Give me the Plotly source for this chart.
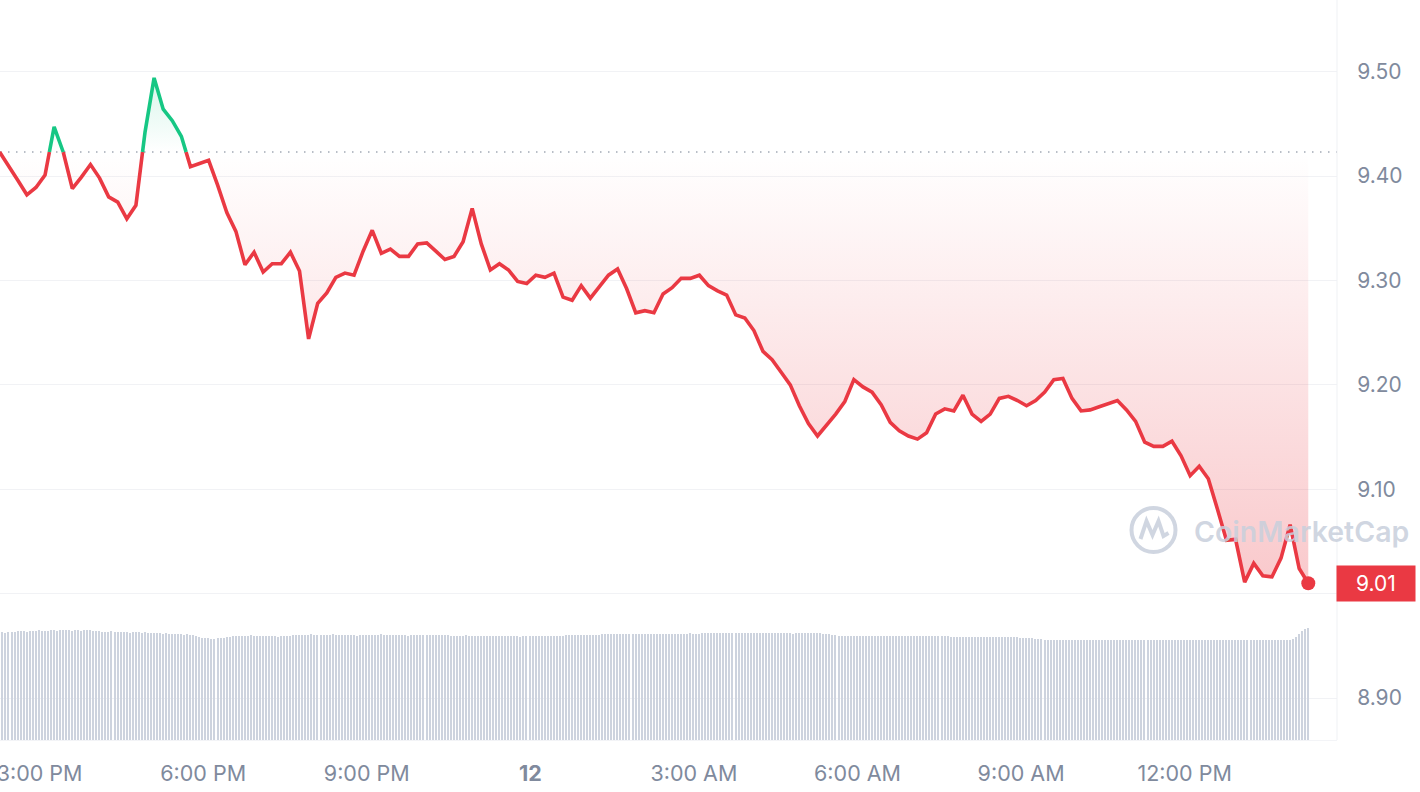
import pandas as pd
import plotly.graph_objects as go

# ---------------- data ----------------
price_start = "2024-01-11 14:16"
price_step = "10min"
price = [
    9.423, 9.410, 9.396, 9.382, 9.389, 9.401, 9.447, 9.423, 9.388, 9.399,
    9.411, 9.398, 9.380, 9.375, 9.359, 9.372, 9.442, 9.494, 9.464, 9.453,
    9.438, 9.409, 9.412, 9.415, 9.391, 9.365, 9.347, 9.315, 9.327, 9.308,
    9.316, 9.316, 9.327, 9.309, 9.244, 9.278, 9.288, 9.303, 9.307, 9.305,
    9.328, 9.348, 9.326, 9.330, 9.323, 9.323, 9.335, 9.336, 9.328, 9.320,
    9.323, 9.337, 9.369, 9.335, 9.310, 9.316, 9.310, 9.299, 9.297, 9.305,
    9.303, 9.307, 9.284, 9.281, 9.295, 9.283, 9.294, 9.305, 9.311, 9.292,
    9.269, 9.271, 9.269, 9.287, 9.293, 9.302, 9.302, 9.305, 9.295, 9.290,
    9.286, 9.267, 9.264, 9.252, 9.232, 9.224, 9.212, 9.200, 9.180, 9.163,
    9.151, 9.161, 9.172, 9.184, 9.205, 9.198, 9.193, 9.181, 9.164, 9.156,
    9.151, 9.148, 9.154, 9.172, 9.177, 9.175, 9.190, 9.172, 9.165, 9.172,
    9.187, 9.189, 9.185, 9.180, 9.185, 9.193, 9.205, 9.206, 9.187, 9.175,
    9.176, 9.179, 9.182, 9.185, 9.176, 9.165, 9.145, 9.141, 9.141, 9.146,
    9.132, 9.113, 9.122, 9.110, 9.081, 9.051, 9.052, 9.011, 9.029, 9.017,
    9.016, 9.034, 9.066, 9.024, 9.010,
]
ref_price = 9.423

volume_step = "200s"
volume = [
    108, 108, 107, 108, 108, 108, 109,
    109, 109, 108, 109, 109, 109, 110, 109, 109, 109, 110, 110, 109,
    110, 110, 110, 110, 109, 110, 110, 109, 110, 110, 110, 109, 109, 109,
    108, 108, 108, 109, 108, 108, 108, 108, 108, 107, 108, 108, 108, 107, 108, 107,
    107, 107, 107, 107, 106, 107, 106, 106, 106, 106, 106, 105, 106, 105, 105, 104,
    103, 102, 102, 102, 101, 101, 102, 102, 102, 103, 103,
    104, 104, 104, 104, 104, 104, 105, 104, 104, 104, 104, 104, 104, 104, 104, 103,
    104, 104, 104, 104, 105, 105, 105,
    105, 105, 105, 106, 105, 105, 105, 105, 105, 105, 106, 105, 105, 105, 105, 105,
    105, 105, 104, 105, 105, 105, 105, 105, 105, 105, 106, 105, 105, 105, 105, 105,
    105, 105, 105, 104, 105, 105, 105, 105, 105, 105, 105, 105, 105, 105, 105, 105, 105,
    104, 104, 104, 104, 104, 105, 104, 104, 104, 104, 104, 104, 104, 104, 104, 104, 104,
    104, 104, 104, 104, 104, 104, 103, 104, 104, 104, 104, 104, 104, 104, 104, 104, 104,
    104, 104, 104, 104, 105, 105, 105, 105, 105, 105, 105, 105, 105, 105, 105, 105,
    106, 106, 106, 106, 106, 106, 106, 106, 106, 106, 106, 106, 106, 106, 106, 106, 106,
    106, 106, 106, 106, 106, 106, 106, 106, 106, 106, 106, 106, 107, 106, 106, 106,
    107, 107, 107, 107, 107, 107, 107, 107, 107, 107, 107, 107, 107, 107, 107, 107,
    107, 107, 107, 107, 107, 107, 107, 107, 107, 107, 107, 107, 107, 107, 106, 107,
    107, 107, 107, 107, 107, 107, 107, 107, 106, 106, 106, 105,
    105, 104, 104, 104, 104, 104, 104, 104, 104, 104, 104, 104, 104, 104, 104, 104,
    104, 104, 104, 104, 104, 104, 104, 104, 104, 104, 104, 104, 104, 104, 104, 104,
    104, 104, 104, 104, 104, 104, 103, 103, 103, 103, 103, 103, 103, 103, 103, 103,
    103, 103, 103, 103, 103, 103, 103, 103, 103, 103, 103, 103, 103, 102, 102, 102,
    102, 102,
    101, 101, 101, 100, 100, 100, 100, 100, 100, 100, 100, 100, 100, 100, 100, 100,
    100, 100, 100, 100, 100, 100, 100, 100, 100, 100, 100, 100, 100, 100, 100, 100,
    100, 100, 100, 100, 100, 100, 100, 100, 100, 100, 100, 100, 100, 100, 100, 100,
    100, 100, 100, 100, 100, 100, 100, 100, 100, 100, 100, 100, 100, 100, 100, 100,
    100, 100, 100, 100, 100, 100, 100, 100, 100, 100, 100, 100, 100, 100, 100, 100,
    100, 100, 100, 100,
    100, 101, 103, 106, 109, 111, 112,
]

tick_times = [
    "2024-01-11 15:00", "2024-01-11 18:00", "2024-01-11 21:00", "2024-01-12 00:00",
    "2024-01-12 03:00", "2024-01-12 06:00", "2024-01-12 09:00", "2024-01-12 12:00",
]
tick_text = ["3:00 PM", "6:00 PM", "9:00 PM", "<b>12</b>", "3:00 AM", "6:00 AM", "9:00 AM", "12:00 PM"]
y_ticks = [8.90, 9.00, 9.10, 9.20, 9.30, 9.40, 9.50]
x_range = ["2024-01-11 14:16:26", "2024-01-12 14:47:36"]
y_range = [8.8598, 9.5686]

# ---------------- styles ----------------
RED = "#ea3943"
GREEN = "#16c784"
GRAY_TXT = "rgb(128,138,157)"
FONT = "Inter"
WM = "rgba(200,207,220,0.85)"

t = pd.date_range(price_start, periods=len(price), freq=price_step)
tv = pd.date_range(price_start, periods=len(volume), freq=volume_step)

# insert crossing points with the reference level so colours switch cleanly
ta, pa = [], []
for i in range(len(price)):
    if i > 0:
        p0, p1 = price[i - 1], price[i]
        if (p0 - ref_price) * (p1 - ref_price) < 0:
            f = (ref_price - p0) / (p1 - p0)
            ta.append(t[i - 1] + (t[i] - t[i - 1]) * f)
            pa.append(ref_price)
    ta.append(t[i])
    pa.append(price[i])

eps = 1e-9
red_y = [v if v <= ref_price + eps else None for v in pa]
green_y = [v if v >= ref_price - eps else None for v in pa]
red_fill = [min(v, ref_price) for v in pa]
green_fill = [max(v, ref_price) for v in pa]
base = [ref_price] * len(pa)

fig = go.Figure()

fig.add_trace(go.Bar(
    x=tv, y=volume, yaxis="y2", width=95000,
    marker=dict(color="#cdd3de", line=dict(width=0)),
    hoverinfo="skip",
))

fig.add_trace(go.Scatter(x=ta, y=base, mode="lines", line=dict(width=0), hoverinfo="skip"))
fig.add_trace(go.Scatter(
    x=ta, y=red_fill, mode="lines", line=dict(width=0), fill="tonexty",
    fillgradient=dict(type="vertical", start=9.0, stop=ref_price,
                      colorscale=[[0, "rgba(234,57,67,0.28)"], [1, "rgba(234,57,67,0.0)"]]),
    hoverinfo="skip",
))
fig.add_trace(go.Scatter(x=ta, y=base, mode="lines", line=dict(width=0), hoverinfo="skip"))
fig.add_trace(go.Scatter(
    x=ta, y=green_fill, mode="lines", line=dict(width=0), fill="tonexty",
    fillgradient=dict(type="vertical", start=ref_price, stop=9.50,
                      colorscale=[[0, "rgba(22,199,132,0.0)"], [1, "rgba(22,199,132,0.18)"]]),
    hoverinfo="skip",
))

fig.add_trace(go.Scatter(x=ta, y=red_y, mode="lines", line=dict(color=RED, width=3.6),
                         connectgaps=False))
fig.add_trace(go.Scatter(x=ta, y=green_y, mode="lines", line=dict(color=GREEN, width=3.6),
                         connectgaps=False))
fig.add_trace(go.Scatter(x=[t[-1]], y=[price[-1]], mode="markers",
                         marker=dict(color=RED, size=14)))

shapes = [
    dict(type="line", xref="paper", x0=0, x1=1, yref="y", y0=ref_price, y1=ref_price,
         line=dict(color="#a3a9b5", width=1.5, dash="1.5px,6.5px"), layer="below"),
    dict(type="line", xref="paper", x0=1, x1=1, yref="paper", y0=0, y1=1,
         line=dict(color="#eff1f4", width=1)),
    # watermark logo
    dict(type="circle", xref="paper", yref="paper", xsizemode="pixel", ysizemode="pixel",
         xanchor=1153.5 / 1337, yanchor=1 - 530 / 740,
         x0=-22, x1=22, y0=-22, y1=22,
         line=dict(color=WM, width=4)),
    dict(type="path", xref="paper", yref="paper", xsizemode="pixel", ysizemode="pixel",
         xanchor=1153.5 / 1337, yanchor=1 - 530 / 740,
         path="M -13,-9 L -7,9 L -1,-5 L 5,9 L 10,-6 L 15,-3",
         line=dict(color=WM, width=4)),
]

annotations = [
    dict(xref="paper", yref="paper", x=1192 / 1337, y=1 - 531 / 740,
         xanchor="left", yanchor="middle", showarrow=False, text="CoinMarketCap",
         font=dict(family=FONT, size=28.5, color=WM, weight=600)),
    dict(xref="paper", yref="y", x=1, y=price[-1], xanchor="left", yanchor="middle",
         showarrow=False, text=f"{price[-1]:.2f}", bgcolor=RED, width=76, height=33,
         xshift=-1, font=dict(family=FONT, size=21, color="white")),
]

fig.update_layout(
    width=1420, height=792,
    margin=dict(l=0, r=83, t=0, b=52),
    paper_bgcolor="white", plot_bgcolor="white",
    showlegend=False, bargap=0,
    font=dict(family=FONT, color=GRAY_TXT),
    xaxis=dict(type="date", range=x_range, tickvals=tick_times, ticktext=tick_text,
               showgrid=False, zeroline=False, ticks="outside", ticklen=14,
               tickcolor="rgba(0,0,0,0)", tickfont=dict(family=FONT, size=21.5, color=GRAY_TXT),
               ticklabeloverflow="allow",
               showline=True, linecolor="#f3f4f7", automargin=False),
    yaxis=dict(side="right", range=y_range, tickvals=y_ticks, tickformat=".2f",
               showgrid=True, gridcolor="#f1f2f5", gridwidth=1, zeroline=False,
               ticks="outside", ticklen=15, tickcolor="rgba(0,0,0,0)",
               tickfont=dict(family=FONT, size=21, color=GRAY_TXT), automargin=False),
    yaxis2=dict(overlaying="y", range=[0, 740], visible=False),
    shapes=shapes,
    annotations=annotations,
)

fig.write_html("out.html", config={"displayModeBar": False},
               post_script="document.body.style.margin='0';document.body.style.overflow='hidden';")
